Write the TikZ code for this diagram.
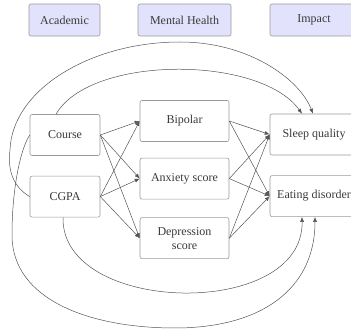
\documentclass[tikz,border=0pt]{standalone}
\usepackage{fontspec}
\setmainfont{Liberation Serif}
\usetikzlibrary{positioning,arrows.meta}

\definecolor{headfill}{HTML}{E2E2FC}
\definecolor{boxline}{HTML}{9A9A9A}
\definecolor{linkline}{HTML}{555555}
\definecolor{txt}{HTML}{3A3A3A}

\tikzset{
  header/.style={rectangle, rounded corners=2pt, draw=boxline, fill=headfill,
    line width=0.6pt, minimum height=32pt, text=txt,
    font=\fontsize{12}{14}\selectfont},
  var/.style={rectangle, rounded corners=2pt, draw=boxline, fill=white,
    line width=0.6pt, minimum height=41pt, text=txt, align=center,
    font=\fontsize{12}{14}\selectfont},
  link/.style={-{Latex[length=5pt,width=4pt]}, linkline, line width=0.5pt}
}

\begin{document}
\begin{tikzpicture}[x=1pt, y=-1pt]
\useasboundingbox (0,0) rectangle (351,331);

% Group headers
\node[header, minimum width=71pt] (academic) at (64.5,20) {Academic};
\node[header, minimum width=93pt] (mental) at (184.5,20) {Mental Health};
\node[header, minimum width=88pt] (impact) at (314,20) {Impact};

% Academic variables
\node[var, minimum width=70pt] (course) at (65,135) {Course};
\node[var, minimum width=70pt, below=20pt of course] (cgpa) {CGPA};

% Mental health variables
\node[var, minimum width=89pt] (bipolar) at (184.5,121) {Bipolar};
\node[var, minimum width=89pt, below=16pt of bipolar] (anxiety) {Anxiety score};
\node[var, minimum width=89pt, below=18pt of anxiety] (depression) {Depression\\score};

% Impact variables
\node[var, minimum width=88pt] (sleep) at (314,134.5) {Sleep quality};
\node[var, minimum width=88pt, below=20pt of sleep] (eating) {Eating disorder};

% Academic -> mental health
\draw[link] (course.east) -- (bipolar.west);
\draw[link] (course.east) -- (anxiety.west);
\draw[link] (course.east) -- (depression.west);
\draw[link] (cgpa.east) -- (bipolar.west);
\draw[link] (cgpa.east) -- (anxiety.west);
\draw[link] (cgpa.east) -- (depression.west);

% Mental health -> impact
\draw[link] (bipolar.east) -- (sleep.west);
\draw[link] (bipolar.east) -- (eating.west);
\draw[link] (anxiety.east) -- (sleep.west);
\draw[link] (anxiety.east) -- (eating.west);
\draw[link] (depression.east) -- (sleep.west);
\draw[link] (depression.east) -- (eating.west);

% Direct paths (curved)
\draw[link] ([xshift=-9pt]course.north) .. controls (90,55) and (260,55) .. ([xshift=-12pt]sleep.north);
\draw[link] (cgpa.west) .. controls (10,185) and (8,165) .. (10,150)
  .. controls (12,90) and (90,42) .. (180,42)
  .. controls (250,42) and (300,80) .. ([xshift=-1pt]sleep.north);
\draw[link] ([xshift=-2pt]cgpa.south) .. controls (61,315) and (304,320) .. ([xshift=-12pt]eating.south);
\draw[link] (course.west) .. controls (20,150) and (12,190) .. (12,235)
  .. controls (12,300) and (90,328) .. (175,328)
  .. controls (260,328) and (315,290) .. ([xshift=1pt]eating.south);

\end{tikzpicture}
\end{document}
